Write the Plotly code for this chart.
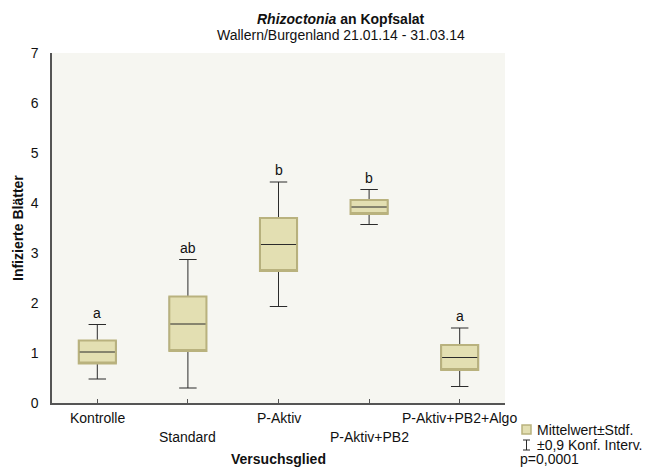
import plotly.graph_objects as go

categories = ["Kontrolle", "Standard", "P-Aktiv", "P-Aktiv+PB2", "P-Aktiv+PB2+Algo"]
means = [1.02, 1.58, 3.17, 3.92, 0.91]
sd_low = [0.79, 1.04, 2.64, 3.78, 0.66]
sd_high = [1.25, 2.13, 3.70, 4.06, 1.16]
ci_low = [0.48, 0.30, 1.93, 3.57, 0.33]
ci_high = [1.57, 2.87, 4.42, 4.27, 1.50]
letters = ["a", "ab", "b", "b", "a"]
row = [0, 1, 0, 1, 0]
y_ticks = [0, 1, 2, 3, 4, 5, 6, 7]

x = list(range(len(categories)))
fill = "#E3DFB2"
edge = "#B9B27E"
dark = "#2b2b2b"

W, H = 659, 468
L, R, T, B = 52, 154, 53, 65
PW, PH = W - L - R, H - T - B

def px(v):
    return (v - L) / PW

def py(v):
    return (H - B - v) / PH

fig = go.Figure()
# whiskers + median (dark)
fig.add_trace(go.Box(
    x=x, q1=sd_low, median=means, q3=sd_high,
    lowerfence=ci_low, upperfence=ci_high,
    fillcolor=fill, line=dict(color=dark, width=1),
    width=0.41, whiskerwidth=0.47, boxpoints=False, showlegend=False,
    hoverinfo="skip"))
# box outline (tan)
fig.add_trace(go.Box(
    x=x, q1=sd_low, median=sd_low, q3=sd_high,
    lowerfence=sd_low, upperfence=sd_high,
    fillcolor="rgba(0,0,0,0)", line=dict(color=edge, width=2),
    width=0.41, whiskerwidth=0, boxpoints=False, showlegend=False,
    hoverinfo="skip"))

FS = 14
font = dict(family="Liberation Sans, Arial", size=FS, color="#111")
ann = []
for i, (l, h) in enumerate(zip(letters, ci_high)):
    ann.append(dict(x=i, y=h, text=l, showarrow=False, xref="x", yref="y",
                    xanchor="center", yanchor="bottom", yshift=2, font=font))
for i, c in enumerate(categories):
    ann.append(dict(x=i, y=0, text=c, showarrow=False, xref="x", yref="y",
                    xanchor="center", yanchor="middle", yshift=-15 - 19 * row[i],
                    font=font))
ann += [
    dict(x=px(341), y=py(19), xref="paper", yref="paper", xanchor="center",
         yanchor="middle", text="<b><i>Rhizoctonia</i> an Kopfsalat</b>",
         showarrow=False, font=font),
    dict(x=px(341), y=py(35), xref="paper", yref="paper", xanchor="center",
         yanchor="middle", text="Wallern/Burgenland 21.01.14 - 31.03.14",
         showarrow=False, font=font),
    dict(x=0.5, y=py(459), xref="paper", yref="paper", xanchor="center",
         yanchor="middle", text="<b>Versuchsglied</b>", showarrow=False, font=font),
    dict(x=px(18), y=0.5, xref="paper", yref="paper", xanchor="center",
         yanchor="middle", textangle=-90,
         text="<b>Infizierte Blätter</b>", showarrow=False, font=font),
    dict(x=px(535), y=py(430), xref="paper", yref="paper", xanchor="left",
         yanchor="middle", text="Mittelwert±Stdf.", showarrow=False, font=font),
    dict(x=px(535), y=py(445), xref="paper", yref="paper", xanchor="left",
         yanchor="middle", text="±0,9 Konf. Interv.", showarrow=False, font=font),
    dict(x=px(518), y=py(459), xref="paper", yref="paper", xanchor="left",
         yanchor="middle", text="p=0,0001", showarrow=False, font=font),
]

shapes = [
    dict(type="rect", xref="paper", yref="paper", x0=px(522), x1=px(531),
         y0=py(425), y1=py(434), fillcolor=fill, line=dict(color=edge, width=1.5)),
    dict(type="line", xref="paper", yref="paper", x0=px(526.5), x1=px(526.5),
         y0=py(440), y1=py(450), line=dict(color=dark, width=1)),
    dict(type="line", xref="paper", yref="paper", x0=px(523), x1=px(530),
         y0=py(440), y1=py(440), line=dict(color=dark, width=1)),
    dict(type="line", xref="paper", yref="paper", x0=px(523), x1=px(530),
         y0=py(450), y1=py(450), line=dict(color=dark, width=1)),
]

fig.update_layout(
    width=W, height=H,
    margin=dict(l=L, r=R, t=T, b=B),
    paper_bgcolor="white", plot_bgcolor="#F6F6F1",
    font=font, showlegend=False,
    annotations=ann, shapes=shapes,
    xaxis=dict(range=[-0.5, 4.5], tickvals=x, ticktext=[""] * 5,
               showgrid=False, zeroline=False, showline=True,
               linecolor="#555", linewidth=1.5, ticks="inside", ticklen=4,
               tickcolor="#555", fixedrange=True),
    yaxis=dict(range=[0, 7], tickvals=y_ticks, showgrid=False,
               zeroline=False, showline=True, linecolor="#555", linewidth=1.5,
               ticks="", ticklabelstandoff=9, fixedrange=True),
)

fig.write_html("out.html")
